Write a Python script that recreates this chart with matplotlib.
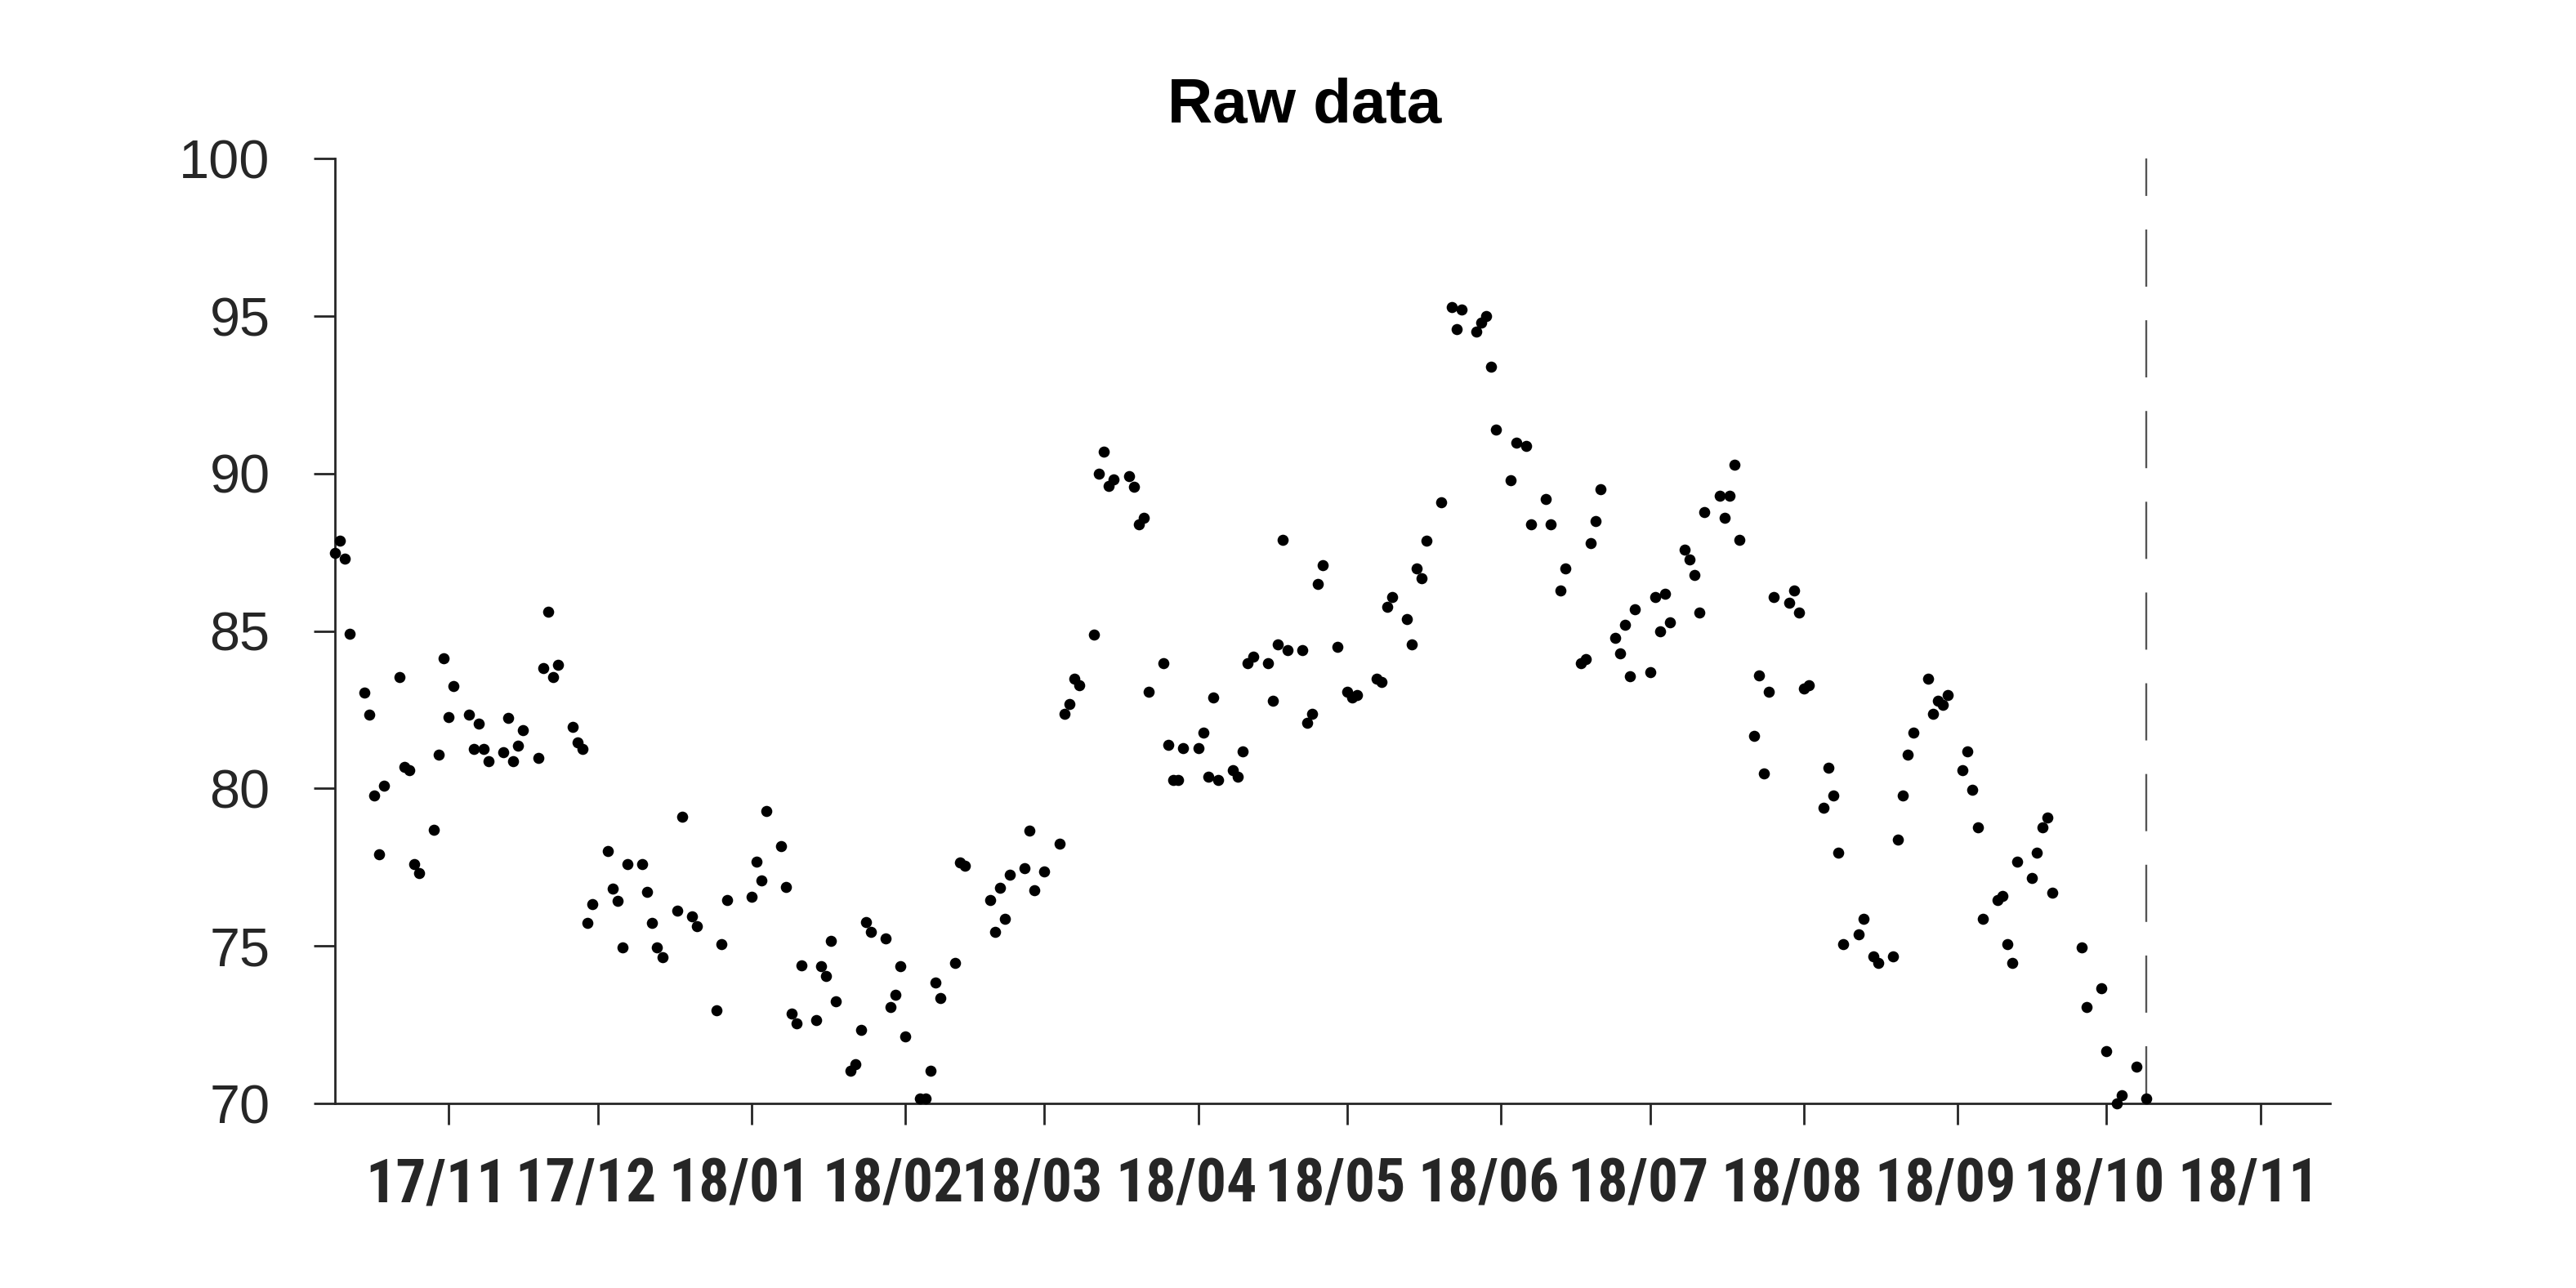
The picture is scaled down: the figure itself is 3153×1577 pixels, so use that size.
import numpy as np
import pandas as pd
import matplotlib
matplotlib.use("Agg")
import matplotlib.pyplot as plt
import matplotlib.dates as mdates
from matplotlib import font_manager
from matplotlib.transforms import ScaledTranslation

nan = np.nan

# ---------------- data ----------------
title = "Raw data"
start_date = "2017-10-09"
end_date = "2018-10-09"
weekmask = "Sun Mon Tue Wed Thu"   # trading days as positioned on the chart
x_right_limit = "2018-11-15"
y_ticks = [70, 75, 80, 85, 90, 95, 100]

values = [
    87.49, 87.88, 87.29, 84.92,
    83.04, 82.35, 79.78, 77.91, 80.08,
    83.54, 80.68, 80.58, 77.61, 77.32,
    78.70, 81.07, 84.13, 82.26, 83.25,
    82.35, 81.27, 82.05, 81.27, 80.87,
    81.16, 82.25, 80.87, 81.36, 81.85,
    80.96, 83.83, 85.62, 83.54, 83.94,
    81.96, 81.47, 81.27, 75.73, 76.33,
    78.01, 76.82, 76.43, 74.95, 77.61,
    77.61, 76.72, 75.73, 74.95, 74.64,
    76.13, 79.10, nan, 75.93, 75.64,
    nan, 72.97, 75.07, 76.47, nan,
    nan, 76.57, 77.67, 77.07, 79.28,
    78.17, 76.87, 72.86, 72.55, 74.38,
    72.65, 74.35, 74.05, 75.15, 73.25,
    71.04, 71.24, 72.34, 75.76, 75.46,
    75.25, 73.06, 73.45, 74.35, 72.14,
    70.15, 70.15, 71.04, 73.84, 73.35,
    74.45, 77.65, 77.56, nan, nan,
    76.46, 75.46, 76.86, 75.86, 77.26,
    77.47, 78.66, 76.76, nan, 77.36,
    78.26, 82.38, 82.68, 83.49, 83.28,
    84.88, 90.00, 90.69, 89.61, 89.83,
    89.91, 89.59, 88.40, 88.60, 83.08,
    83.98, 81.38, 80.27, 80.27, 81.28,
    81.28, 81.77, 80.38, 82.88, 80.27,
    80.58, 80.38, 81.18, 83.98, 84.18,
    83.98, 82.78, 84.59, 87.90, 84.39,
    84.39, 82.08, 82.38, 86.49, 87.09,
    84.49, nan, 83.08, 82.88, 82.98,
    nan, 83.49, 83.38, 85.78, 86.08,
    85.38, 84.59, 86.98, 86.69, 87.88,
    89.09, nan, 95.30, 94.60, 95.21,
    94.50, 94.80, 95.00, 93.40, 91.40,
    89.79, 90.99, nan, 90.89, 88.40,
    89.20, 88.40, nan, 86.30, 86.99,
    83.98, 84.10, 87.80, 88.50, 89.50,
    84.79, 84.28, 85.19, 83.56, 85.69,
    83.69, 86.09, 84.99, 86.19, 85.29,
    87.59, 87.28, 86.79, 85.59, 88.79,
    89.29, 88.59, 89.29, 90.29, 87.89,
    81.67, 83.58, 80.47, 83.07, 86.09,
    85.89, 86.28, 85.59, 83.18, 83.28,
    79.38, 80.67, 79.77, 77.97, 75.07,
    75.37, 75.87, nan, 74.67, 74.46,
    74.67, 78.37, 79.77, 81.07, 81.77,
    83.48, 82.38, 82.78, 82.67, 82.98,
    80.58, 81.18, 79.97, 78.78, 75.87,
    76.46, 76.58, 75.07, 74.46, 77.67,
    77.17, 77.97, 78.78, 79.08, 76.68,
    nan, nan, nan, 74.96, 73.06,
    73.66, 71.66, nan, 70.00, 70.26,
    71.16, nan, 70.16,
]

dates = pd.bdate_range(start_date, end_date, freq="C", weekmask=weekmask)
series = pd.Series(values, index=dates).dropna()

# ---------------- fonts ----------------
available = {f.name for f in font_manager.fontManager.ttflist}
base_family = "Liberation Sans" if "Liberation Sans" in available else "DejaVu Sans"
narrow = None
for cand in ["Liberation Sans Narrow", "DejaVu Sans Condensed", "Roboto Condensed",
             "Open Sans Condensed", "Noto Sans Condensed"]:
    if cand in available:
        narrow = cand
        break

plt.rcParams["font.family"] = [base_family, "DejaVu Sans"]
plt.rcParams["lines.scale_dashes"] = False

text_color = "#262626"

fig = plt.figure(figsize=(3153 / 200, 1577 / 200), dpi=200)
ax = fig.add_axes([0.1299, 0.1433, 0.7746, 0.7334])

ax.scatter(series.index, series.values, s=24, color="black", linewidths=0,
           clip_on=False, zorder=3)
ax.axvline(series.index[-1], color="#555555", lw=0.85, dashes=(25.2, 14.8), zorder=2)

ax.set_xlim(pd.Timestamp(start_date), pd.Timestamp(x_right_limit))
ax.set_ylim(y_ticks[0], y_ticks[-1])
ax.set_yticks(y_ticks)
ax.xaxis.set_major_locator(mdates.MonthLocator())
ax.xaxis.set_major_formatter(mdates.DateFormatter("%y/%m"))

for side in ["top", "right"]:
    ax.spines[side].set_visible(False)
for side in ["left", "bottom"]:
    ax.spines[side].set_linewidth(1.0)
    ax.spines[side].set_color(text_color)

ax.tick_params(axis="both", direction="out", length=9.4, width=1.0, color=text_color,
               labelcolor=text_color)
ax.tick_params(axis="y", pad=19, labelsize=24)
ax.tick_params(axis="x", pad=14)

for lab in ax.get_yticklabels():
    lab.set_family([base_family, "DejaVu Sans"])

xfam = narrow if narrow else base_family
xsize = 26.5 if narrow else 22.5
for lab in ax.get_xticklabels():
    lab.set_family([xfam, "DejaVu Sans"])
    lab.set_fontweight("bold")
    lab.set_fontsize(xsize)

fig.text(0.5065, 0.917, title, ha="center", va="center", fontsize=27.5,
         fontweight="bold", color="black")

fig.canvas.draw()
offset = ScaledTranslation(-15 / 200, 0, fig.dpi_scale_trans)
for tick in ax.xaxis.get_major_ticks():
    tick.label1.set_transform(tick.label1.get_transform() + offset)

fig.savefig("out.png", dpi=200, facecolor="white")
